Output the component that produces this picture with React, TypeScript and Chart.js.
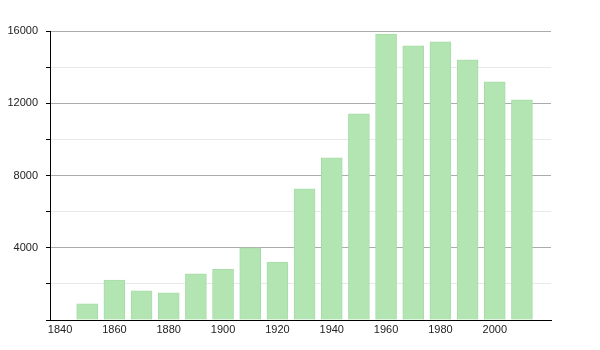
import React, { useEffect, useRef } from "react";
import { Chart, registerables } from "chart.js";

Chart.register(...registerables);

const years = [1850, 1860, 1870, 1880, 1890, 1900, 1910, 1920, 1930, 1940, 1950, 1960, 1970, 1980, 1990, 2000, 2010];
const population = [890, 2210, 1610, 1500, 2550, 2810, 3990, 3200, 7260, 8980, 11410, 15830, 15180, 15400, 14400, 13190, 12190];
const xTickLabels = [1840, 1860, 1880, 1900, 1920, 1940, 1960, 1980, 2000];
const yTickLabels = [4000, 8000, 12000, 16000];

export default function App() {
  const ref = useRef<HTMLCanvasElement | null>(null);
  useEffect(() => {
    document.body.style.margin = "0";
    const canvas = ref.current;
    if (!canvas) return;
    const font = { family: "'Liberation Sans', Arial, sans-serif", size: 11 };
    const chart = new Chart(canvas, {
      type: "bar",
      data: {
        datasets: [
          {
            data: years.map((y, i) => ({ x: y, y: population[i] })),
            backgroundColor: "#b3e5b3",
            borderColor: "#a6dca6",
            borderWidth: 1,
            barThickness: 21,
          },
        ],
      },
      options: {
        responsive: false,
        animation: false,
        layout: { padding: { left: 0, right: 49, top: 31, bottom: 0 } },
        plugins: { legend: { display: false }, tooltip: { enabled: false } },
        scales: {
          x: {
            type: "linear",
            offset: false,
            min: 1836.3,
            max: 2020.7,
            grid: { display: false, drawTicks: false },
            border: { color: "#000", width: 1 },
            ticks: {
              color: "#222",
              font,
              padding: 3,
              maxRotation: 0,
              autoSkip: false,
              callback: (v: any) => String(v),
            },
            afterBuildTicks: (scale: any) => {
              scale.ticks = xTickLabels.map((v) => ({ value: v }));
            },
            afterFit: (scale: any) => {
              scale.height = 30;
            },
          },
          y: {
            min: 0,
            max: 16000,
            border: { color: "#000", width: 1 },
            grid: {
              color: (ctx: any) =>
                ctx.tick && ctx.tick.value === 0
                  ? "rgba(0,0,0,0)"
                  : yTickLabels.includes(ctx.tick?.value)
                  ? "#ababab"
                  : "#e8e8e8",
              tickColor: "#000",
              tickLength: 4,
            },
            ticks: {
              stepSize: 2000,
              color: "#222",
              font,
              padding: 8,
              autoSkip: false,
              callback: (v: any) => (yTickLabels.includes(v) ? String(v) : ""),
            },
            afterFit: (scale: any) => {
              scale.width = 50;
            },
          },
        },
      },
    });
    return () => chart.destroy();
  }, []);
  return <canvas ref={ref} width={600} height={350} style={{ display: "block" }} />;
}
